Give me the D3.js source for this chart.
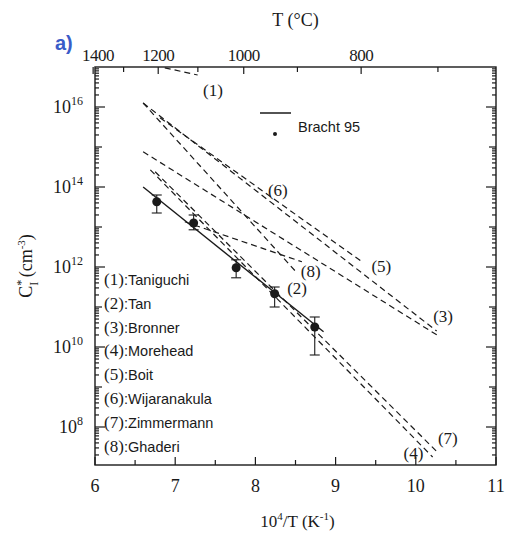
<!DOCTYPE html>
<html>
<head>
<meta charset="utf-8">
<script src="https://cdn.jsdelivr.net/npm/d3@7"></script>
<style>
  body { margin: 0; background: #fff; }
  .serif { font-family: "Liberation Serif", "DejaVu Serif", serif; }
  .sans { font-family: "Liberation Sans", Arial, sans-serif; }
</style>
</head>
<body>
<div id="chart"></div>
<script>

// reference curves: endpoints as [10^4/T, log10 C]
const refTags  = ["(1)", "(2)", "(3)", "(4)", "(5)", "(6)", "(7)", "(8)"];
const refNames = ["Taniguchi", "Tan", "Bronner", "Morehead", "Boit", "Wijaranakula", "Zimmermann", "Ghaderi"];
const refFrom  = [[6.87, 16.98], [6.60, 16.10], [6.60, 14.88], [6.69, 14.43], [6.81, 15.73], [6.60, 16.10], [6.75, 14.38], [7.12, 13.13]];
const refTo    = [[7.28, 16.80], [8.52, 11.85], [10.28, 10.28], [10.21, 7.25], [9.33, 12.13], [10.26, 10.40], [10.28, 7.35], [8.58, 12.13]];
// where the (n) tags sit, [10^4/T, log10 C]
const tagAt    = [[7.47, 16.43], [8.52, 11.48], [10.34, 10.78], [9.97, 7.35], [9.57, 12.03], [8.28, 13.93], [10.40, 7.72], [8.69, 11.90]];

// Bracht 95 measurements
const brX    = [6.77, 7.23, 7.76, 8.24, 8.74];
const brLog  = [13.63, 13.10, 11.98, 11.33, 10.50];
const brHi   = [13.80, 13.30, 12.18, 11.50, 10.75];
const brLo   = [13.35, 12.93, 11.73, 11.00, 9.80];
const brFit  = [[6.60, 14.00], [8.85, 10.38]];

// axes
const xTicks = [6, 7, 8, 9, 10, 11];
const yTicks = [8, 10, 12, 14, 16];
const tTicks = [1400, 1200, 1000, 800];
const tMinor = [1300, 1100, 900, 700];

const W = 508, H = 535;
const L = 95, R = 496, T = 67, B = 465;

const svg = d3.select("#chart").append("svg")
    .attr("width", W).attr("height", H);
svg.append("rect").attr("width", W).attr("height", H).attr("fill", "#fff");

const x = d3.scaleLinear().domain([6, 11]).range([L, R]);
const y = d3.scaleLog().domain([Math.pow(10, 7.05), 1e17]).range([B, T]);
const yl = v => y(Math.pow(10, v));
const tx = c => x(1e4 / (c + 273.15));

const ink = "#1a1a1a";

// clip for plot area
svg.append("clipPath").attr("id", "clip")
  .append("rect").attr("x", L).attr("y", T).attr("width", R - L).attr("height", B - T);

// frame
svg.append("rect")
    .attr("x", L).attr("y", T).attr("width", R - L).attr("height", B - T)
    .attr("fill", "none").attr("stroke", ink).attr("stroke-width", 1.4);

const ticks = svg.append("g").attr("stroke", ink).attr("stroke-width", 1.2);

// bottom ticks
d3.range(6, 11.01, 0.5).forEach(v => {
  const len = Number.isInteger(v) ? 8 : 5;
  ticks.append("line").attr("x1", x(v)).attr("x2", x(v)).attr("y1", B).attr("y2", B - len);
});
svg.append("g").selectAll("text").data(xTicks).enter().append("text")
    .attr("class", "serif")
    .attr("x", d => x(d)).attr("y", B + 27)
    .attr("text-anchor", "middle").attr("font-size", 18).attr("fill", ink)
    .text(d => d);

// top temperature ticks
tTicks.forEach(c => {
  ticks.append("line").attr("x1", tx(c)).attr("x2", tx(c)).attr("y1", T).attr("y2", T + 7);
});
tMinor.forEach(c => {
  ticks.append("line").attr("x1", tx(c)).attr("x2", tx(c)).attr("y1", T).attr("y2", T + 5);
});
svg.append("g").selectAll("text").data(tTicks).enter().append("text")
    .attr("class", "serif")
    .attr("x", d => Math.max(tx(d), L + 3)).attr("y", T - 6)
    .attr("text-anchor", "middle").attr("font-size", 17).attr("fill", ink)
    .attr("letter-spacing", -0.5)
    .text(d => d);

// left and right log ticks
for (let e = 7; e <= 16; e++) {
  for (let m = 1; m <= 9; m++) {
    const v = m * Math.pow(10, e);
    if (v < y.domain()[0] || v > y.domain()[1]) continue;
    let len = 4;
    if (m === 1) len = (e % 2 === 0) ? 10 : 7;
    ticks.append("line").attr("x1", L).attr("x2", L + len).attr("y1", y(v)).attr("y2", y(v));
    ticks.append("line").attr("x1", R).attr("x2", R - len).attr("y1", y(v)).attr("y2", y(v));
  }
}
const yLab = svg.append("g").selectAll("text").data(yTicks).enter().append("text")
    .attr("class", "serif")
    .attr("x", L - 12).attr("y", d => yl(d) + 6)
    .attr("text-anchor", "end").attr("font-size", 18).attr("fill", ink);
yLab.append("tspan").text("10");
yLab.append("tspan").attr("dy", -8).attr("font-size", 12).text(d => d);

// axis titles
svg.append("text").attr("class", "serif")
    .attr("x", (L + R) / 2).attr("y", 26)
    .attr("text-anchor", "middle").attr("font-size", 18).attr("fill", ink)
    .text("T (\u00B0C)");

const xt = svg.append("text").attr("class", "serif")
    .attr("x", (L + R) / 2 + 2).attr("y", 527)
    .attr("text-anchor", "middle").attr("font-size", 17).attr("fill", ink);
xt.append("tspan").text("10");
xt.append("tspan").attr("dy", -7).attr("font-size", 11).text("4");
xt.append("tspan").attr("dy", 7).text("/T (K");
xt.append("tspan").attr("dy", -7).attr("font-size", 11).text("-1");
xt.append("tspan").attr("dy", 7).text(")");

const yt = svg.append("text").attr("class", "serif")
    .attr("transform", "translate(32," + ((T + B) / 2) + ") rotate(-90)")
    .attr("text-anchor", "middle").attr("font-size", 18).attr("fill", ink);
yt.append("tspan").text("C");
yt.append("tspan").attr("dy", -7).attr("font-size", 12).text("*");
yt.append("tspan").attr("dx", -6).attr("dy", 13).attr("font-size", 12).text("I");
yt.append("tspan").attr("dy", -6).text(" (cm");
yt.append("tspan").attr("dy", -7).attr("font-size", 11).text("-3");
yt.append("tspan").attr("dy", 7).text(")");

svg.append("text").attr("class", "sans")
    .attr("x", 55).attr("y", 50)
    .attr("font-size", 20).attr("font-weight", "bold").attr("fill", "#3a5cc8")
    .text("a)");

// curves
const plot = svg.append("g").attr("clip-path", "url(#clip)");

plot.selectAll(".ref").data(refFrom).enter().append("line")
    .attr("class", "ref")
    .attr("x1", d => x(d[0])).attr("y1", d => yl(d[1]))
    .attr("x2", (d, i) => x(refTo[i][0])).attr("y2", (d, i) => yl(refTo[i][1]))
    .attr("stroke", ink).attr("stroke-width", 1.2)
    .attr("stroke-dasharray", "6,4");

plot.append("line")
    .attr("x1", x(brFit[0][0])).attr("y1", yl(brFit[0][1]))
    .attr("x2", x(brFit[1][0])).attr("y2", yl(brFit[1][1]))
    .attr("stroke", ink).attr("stroke-width", 1.4);

// error bars and points
const pts = svg.append("g").selectAll("g").data(brX).enter().append("g");
pts.append("line")
    .attr("x1", d => x(d)).attr("x2", d => x(d))
    .attr("y1", (d, i) => yl(brHi[i])).attr("y2", (d, i) => yl(brLo[i]))
    .attr("stroke", ink).attr("stroke-width", 1.1);
[brHi, brLo].forEach(arr => {
  pts.append("line")
      .attr("x1", d => x(d) - 5).attr("x2", d => x(d) + 5)
      .attr("y1", (d, i) => yl(arr[i])).attr("y2", (d, i) => yl(arr[i]))
      .attr("stroke", ink).attr("stroke-width", 1.1);
});
pts.append("circle")
    .attr("cx", d => x(d)).attr("cy", (d, i) => yl(brLog[i]))
    .attr("r", 4.5).attr("fill", ink);

// (n) tags on the curves
svg.append("g").selectAll("text").data(tagAt).enter().append("text")
    .attr("class", "serif")
    .attr("x", d => x(d[0])).attr("y", d => yl(d[1]) + 6)
    .attr("text-anchor", "middle").attr("font-size", 17).attr("fill", ink)
    .text((d, i) => refTags[i]);

// legend of references
const leg = svg.append("g").selectAll("g").data(refNames).enter().append("g")
    .attr("transform", (d, i) => "translate(104," + (285 + i * 23.8) + ")");
leg.append("text").attr("class", "serif")
    .attr("font-size", 17).attr("fill", ink)
    .text((d, i) => refTags[i]);
leg.append("text").attr("class", "sans")
    .attr("x", 20).attr("font-size", 14.5).attr("fill", ink)
    .text(d => ":" + d);

// Bracht 95 key
svg.append("line").attr("x1", 260).attr("x2", 291).attr("y1", 113).attr("y2", 113)
    .attr("stroke", ink).attr("stroke-width", 1.5);
svg.append("circle").attr("cx", 275).attr("cy", 134).attr("r", 2).attr("fill", ink);
svg.append("text").attr("class", "sans")
    .attr("x", 298).attr("y", 132).attr("font-size", 14.5).attr("fill", ink)
    .text("Bracht 95");

</script>
</body>
</html>
